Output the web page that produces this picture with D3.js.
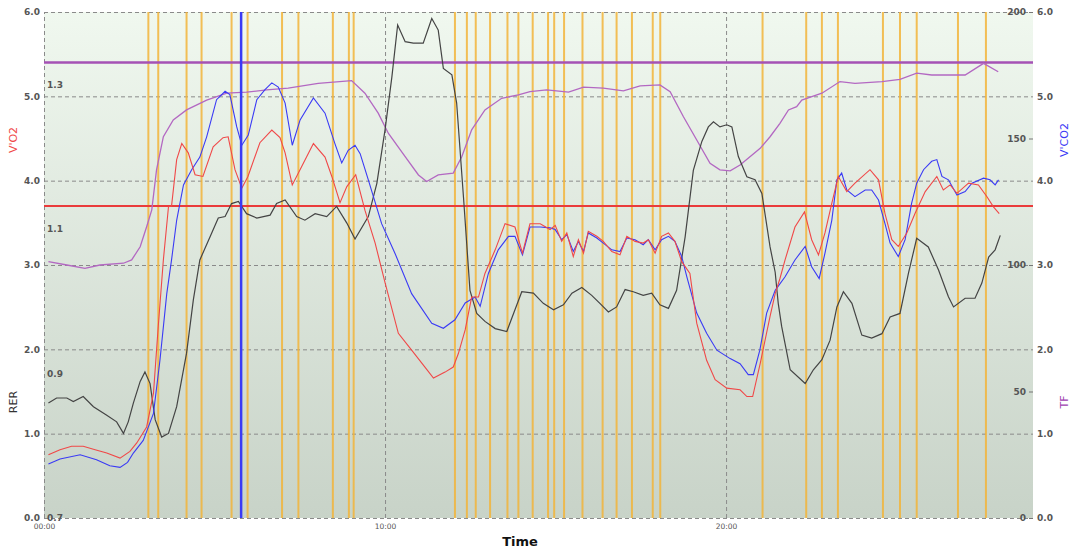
<!DOCTYPE html>
<html>
<meta charset="utf-8">
<head>
    <script src="https://cdnjs.cloudflare.com/ajax/libs/d3/7.8.5/d3.min.js"></script>
    <style>
        body { margin: 0; background: #fff; }
        text { font-family: "DejaVu Sans", sans-serif; }
    </style>
</head>
<body>
<script>
    const svgWidth = 1072, svgHeight = 550;

    // time in minutes
    const vo2 = [[0.13,0.75],[0.47,0.81],[0.81,0.85],[1.15,0.85],[1.50,0.81],[1.84,0.77],[2.23,0.71],[2.52,0.79],[2.72,0.89],[3.01,1.08],[3.21,1.48],[3.35,2.27],[3.50,3.06],[3.65,3.69],[3.74,3.70],[3.89,4.25],[4.04,4.44],[4.23,4.33],[4.43,4.07],[4.66,4.05],[4.96,4.40],[5.25,4.51],[5.40,4.52],[5.60,4.13],[5.80,3.91],[5.98,4.05],[6.33,4.45],[6.68,4.60],[6.92,4.51],[7.07,4.33],[7.28,3.95],[7.56,4.17],[7.90,4.44],[8.24,4.28],[8.44,4.05],[8.68,3.74],[8.88,3.93],[9.14,4.07],[9.41,3.65],[9.71,3.26],[10.00,2.79],[10.39,2.19],[10.78,1.99],[11.17,1.79],[11.42,1.66],[11.76,1.73],[12.00,1.79],[12.15,1.95],[12.35,2.23],[12.54,2.62],[12.74,2.62],[12.93,2.90],[13.23,3.18],[13.52,3.49],[13.81,3.45],[14.03,3.14],[14.25,3.49],[14.55,3.49],[14.84,3.42],[14.99,3.47],[15.18,3.28],[15.33,3.38],[15.52,3.10],[15.67,3.30],[15.82,3.14],[15.96,3.40],[16.21,3.34],[16.40,3.28],[16.65,3.16],[16.89,3.12],[17.09,3.34],[17.33,3.28],[17.57,3.26],[17.72,3.30],[17.92,3.14],[18.11,3.34],[18.31,3.38],[18.50,3.28],[18.70,3.04],[18.94,2.90],[19.14,2.31],[19.43,1.87],[19.68,1.64],[20.02,1.54],[20.41,1.52],[20.61,1.44],[20.78,1.44],[21.00,1.83],[21.29,2.39],[21.44,2.66],[21.58,2.84],[21.73,3.06],[22.02,3.45],[22.30,3.63],[22.51,3.30],[22.71,3.12],[22.90,3.38],[23.10,3.73],[23.29,4.05],[23.54,3.87],[23.78,3.97],[24.22,4.13],[24.47,4.01],[24.66,3.61],[24.86,3.30],[25.05,3.22],[25.30,3.38],[25.54,3.61],[25.84,3.87],[26.18,4.05],[26.37,3.89],[26.57,3.95],[26.77,3.85],[27.11,3.97],[27.40,3.95],[27.65,3.81],[27.84,3.69],[28.01,3.61]];

    const vco2 = [[0.13,0.64],[0.47,0.70],[1.06,0.75],[1.54,0.69],[1.93,0.62],[2.23,0.60],[2.45,0.66],[2.62,0.77],[2.91,0.92],[3.21,1.24],[3.40,1.87],[3.60,2.66],[3.74,3.06],[3.89,3.53],[4.09,3.95],[4.33,4.13],[4.57,4.28],[4.77,4.52],[5.06,4.96],[5.31,5.06],[5.45,5.02],[5.65,4.64],[5.80,4.42],[5.99,4.54],[6.24,4.96],[6.48,5.08],[6.68,5.16],[6.87,5.11],[7.07,4.92],[7.28,4.42],[7.51,4.72],[7.90,4.98],[8.24,4.80],[8.53,4.44],[8.73,4.21],[8.92,4.36],[9.12,4.42],[9.27,4.32],[9.51,4.01],[9.90,3.49],[10.29,3.14],[10.78,2.66],[11.37,2.31],[11.71,2.25],[12.05,2.35],[12.35,2.55],[12.64,2.62],[12.79,2.51],[13.03,2.90],[13.32,3.18],[13.62,3.34],[13.81,3.34],[14.03,3.12],[14.25,3.45],[14.55,3.45],[14.84,3.44],[14.99,3.42],[15.18,3.30],[15.33,3.36],[15.52,3.16],[15.67,3.28],[15.82,3.16],[15.96,3.38],[16.21,3.32],[16.40,3.26],[16.65,3.18],[16.89,3.16],[17.09,3.32],[17.33,3.30],[17.57,3.24],[17.72,3.30],[17.92,3.18],[18.11,3.30],[18.31,3.34],[18.50,3.28],[18.70,3.10],[18.85,2.86],[19.14,2.43],[19.43,2.19],[19.73,1.99],[20.12,1.89],[20.41,1.83],[20.65,1.70],[20.80,1.70],[20.99,1.99],[21.19,2.43],[21.44,2.70],[21.73,2.86],[22.02,3.06],[22.32,3.22],[22.51,2.98],[22.73,2.84],[22.90,3.14],[23.10,3.53],[23.25,4.01],[23.39,4.09],[23.54,3.89],[23.78,3.81],[24.08,3.89],[24.27,3.89],[24.47,3.77],[24.66,3.49],[24.81,3.26],[25.05,3.10],[25.25,3.30],[25.44,3.73],[25.59,3.97],[25.79,4.13],[26.03,4.23],[26.18,4.25],[26.33,4.05],[26.52,4.01],[26.77,3.83],[27.01,3.87],[27.21,3.97],[27.55,4.03],[27.74,4.01],[27.89,3.95],[27.99,4.01]];

    const rer = [[0.13,0.859],[0.37,0.866],[0.67,0.866],[0.86,0.861],[1.15,0.868],[1.45,0.854],[1.84,0.842],[2.13,0.833],[2.33,0.817],[2.47,0.833],[2.62,0.859],[2.82,0.889],[2.96,0.902],[3.11,0.886],[3.26,0.836],[3.45,0.812],[3.65,0.817],[3.89,0.854],[4.18,0.928],[4.38,1.002],[4.57,1.057],[4.87,1.089],[5.11,1.115],[5.31,1.117],[5.50,1.135],[5.70,1.138],[5.94,1.121],[6.24,1.115],[6.63,1.119],[6.82,1.135],[7.07,1.140],[7.41,1.117],[7.65,1.112],[7.95,1.121],[8.29,1.117],[8.58,1.131],[8.88,1.108],[9.12,1.086],[9.51,1.117],[9.76,1.163],[10.00,1.237],[10.20,1.310],[10.37,1.382],[10.59,1.359],[10.83,1.357],[11.12,1.357],[11.37,1.391],[11.56,1.375],[11.71,1.322],[11.96,1.313],[12.10,1.274],[12.30,1.144],[12.49,1.015],[12.69,0.983],[12.93,0.972],[13.23,0.962],[13.57,0.958],[13.81,0.988],[14.01,1.013],[14.35,1.011],[14.64,0.997],[14.94,0.988],[15.23,0.995],[15.48,1.011],[15.77,1.019],[16.06,1.008],[16.30,0.997],[16.55,0.985],[16.79,0.992],[17.04,1.016],[17.28,1.013],[17.57,1.008],[17.82,1.011],[18.06,0.995],[18.31,0.990],[18.55,1.015],[18.80,1.089],[19.04,1.181],[19.29,1.221],[19.48,1.241],[19.63,1.248],[19.82,1.241],[20.02,1.244],[20.17,1.241],[20.36,1.200],[20.61,1.172],[20.85,1.168],[21.05,1.149],[21.29,1.075],[21.44,1.040],[21.53,0.997],[21.63,0.965],[21.88,0.905],[22.32,0.886],[22.56,0.905],[22.81,0.919],[23.05,0.946],[23.25,0.992],[23.44,1.013],[23.69,0.997],[23.98,0.953],[24.27,0.949],[24.57,0.955],[24.81,0.978],[25.10,0.983],[25.35,1.039],[25.59,1.087],[25.93,1.075],[26.23,1.043],[26.52,1.006],[26.67,0.992],[27.01,1.004],[27.30,1.004],[27.50,1.025],[27.70,1.061],[27.89,1.071],[28.04,1.091]];

    const tf = [[0.13,101.3],[0.67,100.0],[1.20,98.7],[1.64,100.0],[2.33,100.7],[2.57,102.0],[2.82,107.2],[3.01,115.1],[3.16,121.8],[3.30,137.6],[3.50,150.7],[3.79,157.3],[4.18,161.3],[4.77,165.2],[5.36,167.9],[5.94,168.3],[6.53,169.2],[7.16,169.9],[8.04,171.8],[9.02,172.9],[9.41,167.9],[9.80,160.0],[10.10,152.0],[10.59,142.8],[10.98,135.6],[11.22,133.0],[11.56,135.6],[12.00,136.3],[12.25,142.8],[12.54,153.4],[12.93,161.3],[13.42,165.9],[13.91,167.2],[14.25,168.5],[14.74,169.2],[15.38,168.3],[15.82,170.3],[16.40,169.9],[16.99,168.8],[17.48,170.8],[18.06,171.2],[18.36,168.5],[18.75,158.6],[19.14,149.4],[19.53,140.2],[19.82,137.6],[20.12,137.2],[20.41,139.5],[21.00,146.1],[21.29,150.7],[21.58,156.0],[21.83,161.3],[22.07,162.6],[22.22,165.2],[22.81,167.9],[23.34,172.5],[23.78,171.8],[24.57,172.5],[25.10,173.4],[25.59,175.8],[26.03,175.1],[27.01,175.1],[27.55,179.7],[27.98,176.4]];

    // event markers (minutes)
    const markerTimes = [3.06,3.35,4.18,4.62,5.50,5.97,6.98,7.46,8.47,8.94,9.08,12.05,12.40,12.66,13.08,13.59,13.91,14.33,14.78,14.96,15.25,15.79,16.38,16.79,17.24,17.85,18.07,21.07,22.35,22.81,23.28,24.60,25.10,25.59,26.80,27.62];
    const cursorTime = 5.78;
    const vo2Limit = 3.7;
    const tfLimit = 180;

    const vo2Ticks = [0, 1, 2, 3, 4, 5, 6];
    const rerTicks = [0.7, 0.9, 1.1, 1.3];
    const tfTicks = [0, 50, 100, 150, 200];
    const timeTicks = [0, 10, 20];

    const plotLeft = 44, plotRight = 1033, plotTop = 12, plotBottom = 518;

    const svg = d3.select("body")
        .append("svg")
        .attr("width", svgWidth)
        .attr("height", svgHeight);

    const x = d3.scaleLinear().domain([0, 29]).range([plotLeft, plotRight]);
    const yVo2 = d3.scaleLinear().domain([0, 6]).range([plotBottom, plotTop]);
    const yRer = d3.scaleLinear().domain([0.7, 1.4]).range([plotBottom, plotTop]);
    const yTf = d3.scaleLinear().domain([0, 200]).range([plotBottom, plotTop]);

    // background gradient
    const grad = svg.append("defs").append("linearGradient")
        .attr("id", "bg").attr("x1", 0).attr("y1", 0).attr("x2", 0).attr("y2", 1);
    grad.append("stop").attr("offset", "0%").attr("stop-color", "#f0f8ef");
    grad.append("stop").attr("offset", "100%").attr("stop-color", "#c8d3c8");
    svg.append("rect")
        .attr("x", plotLeft).attr("y", plotTop)
        .attr("width", plotRight - plotLeft).attr("height", plotBottom - plotTop)
        .attr("fill", "url(#bg)");

    // horizontal grid + left ticks
    const gLeft = svg.append("g")
        .attr("transform", `translate(${plotLeft},0)`)
        .call(d3.axisLeft(yVo2).tickValues(vo2Ticks).tickFormat(d3.format(".1f")).tickSize(-(plotRight - plotLeft)).tickPadding(4));
    gLeft.select(".domain").remove();

    // vertical grid + time labels
    const gTime = svg.append("g")
        .attr("transform", `translate(0,${plotBottom})`)
        .call(d3.axisBottom(x).tickValues(timeTicks)
            .tickFormat(d => String(d).padStart(2, "0") + ":00")
            .tickSize(-(plotBottom - plotTop)).tickPadding(6));
    gTime.select(".domain").remove();

    svg.selectAll(".tick line")
        .attr("stroke", "#8a8a8a")
        .attr("stroke-dasharray", "4,3");

    // right side VCO2 labels
    const gRight = svg.append("g")
        .attr("transform", `translate(${plotRight},0)`)
        .call(d3.axisRight(yVo2).tickValues(vo2Ticks).tickFormat(d3.format(".1f")).tickSize(0).tickPadding(4));
    gRight.select(".domain").remove();

    // TF labels inside right edge
    const gTf = svg.append("g")
        .attr("transform", `translate(${plotRight},0)`)
        .call(d3.axisLeft(yTf).tickValues(tfTicks).tickSize(4).tickPadding(3));
    gTf.select(".domain").remove();
    gTf.selectAll("line").attr("stroke", "#777");

    // RER labels inside left edge
    const gRer = svg.append("g")
        .attr("transform", `translate(${plotLeft},0)`)
        .call(d3.axisRight(yRer).tickValues(rerTicks).tickFormat(d3.format(".1f")).tickSize(0).tickPadding(3));
    gRer.select(".domain").remove();

    svg.selectAll(".tick text")
        .attr("font-size", "9px")
        .attr("font-weight", "bold")
        .attr("fill", "#555");
    gTime.selectAll("text").attr("font-size", "7.5px").attr("font-weight", "normal");

    // event markers
    svg.append("g").selectAll("line")
        .data(markerTimes)
        .enter()
        .append("line")
        .attr("x1", d => x(d)).attr("x2", d => x(d))
        .attr("y1", plotTop).attr("y2", plotBottom)
        .attr("stroke", "#f2b43a")
        .attr("stroke-opacity", 0.85)
        .attr("stroke-width", 2);

    // limits
    svg.append("line")
        .attr("x1", plotLeft).attr("x2", plotRight)
        .attr("y1", yTf(tfLimit)).attr("y2", yTf(tfLimit))
        .attr("stroke", "#a552b5").attr("stroke-width", 2.5);
    svg.append("line")
        .attr("x1", plotLeft).attr("x2", plotRight)
        .attr("y1", yVo2(vo2Limit)).attr("y2", yVo2(vo2Limit))
        .attr("stroke", "#ea3b3b").attr("stroke-width", 2);

    const lineOf = y => d3.line().x(d => x(d[0])).y(d => y(d[1]));

    svg.append("path").datum(tf)
        .attr("d", lineOf(yTf)).attr("fill", "none")
        .attr("stroke", "#b368c2").attr("stroke-width", 1.3);
    svg.append("path").datum(rer)
        .attr("d", lineOf(yRer)).attr("fill", "none")
        .attr("stroke", "#444").attr("stroke-width", 1.2);
    svg.append("path").datum(vco2)
        .attr("d", lineOf(yVo2)).attr("fill", "none")
        .attr("stroke", "#3a3af5").attr("stroke-width", 1.1);
    svg.append("path").datum(vo2)
        .attr("d", lineOf(yVo2)).attr("fill", "none")
        .attr("stroke", "#f04848").attr("stroke-width", 1.1);

    // cursor
    svg.append("line")
        .attr("x1", x(cursorTime)).attr("x2", x(cursorTime))
        .attr("y1", plotTop).attr("y2", plotBottom)
        .attr("stroke", "#3a3af5").attr("stroke-width", 2.5);

    // axis titles
    const title = (txt, tx, ty, color) => svg.append("text")
        .attr("transform", `translate(${tx},${ty}) rotate(-90)`)
        .attr("text-anchor", "middle")
        .attr("font-size", "11px")
        .attr("fill", color)
        .text(txt);
    title("V'O2", 17, 140, "#f04848");
    title("RER", 17, 402, "#333");
    title("V'CO2", 1068, 140, "#3a3af5");
    title("TF", 1068, 402, "#a040b0");

    svg.append("text")
        .attr("x", 520).attr("y", 546)
        .attr("text-anchor", "middle")
        .attr("font-size", "13px")
        .attr("font-weight", "bold")
        .attr("fill", "#111")
        .text("Time");
</script>
</body>
</html>
